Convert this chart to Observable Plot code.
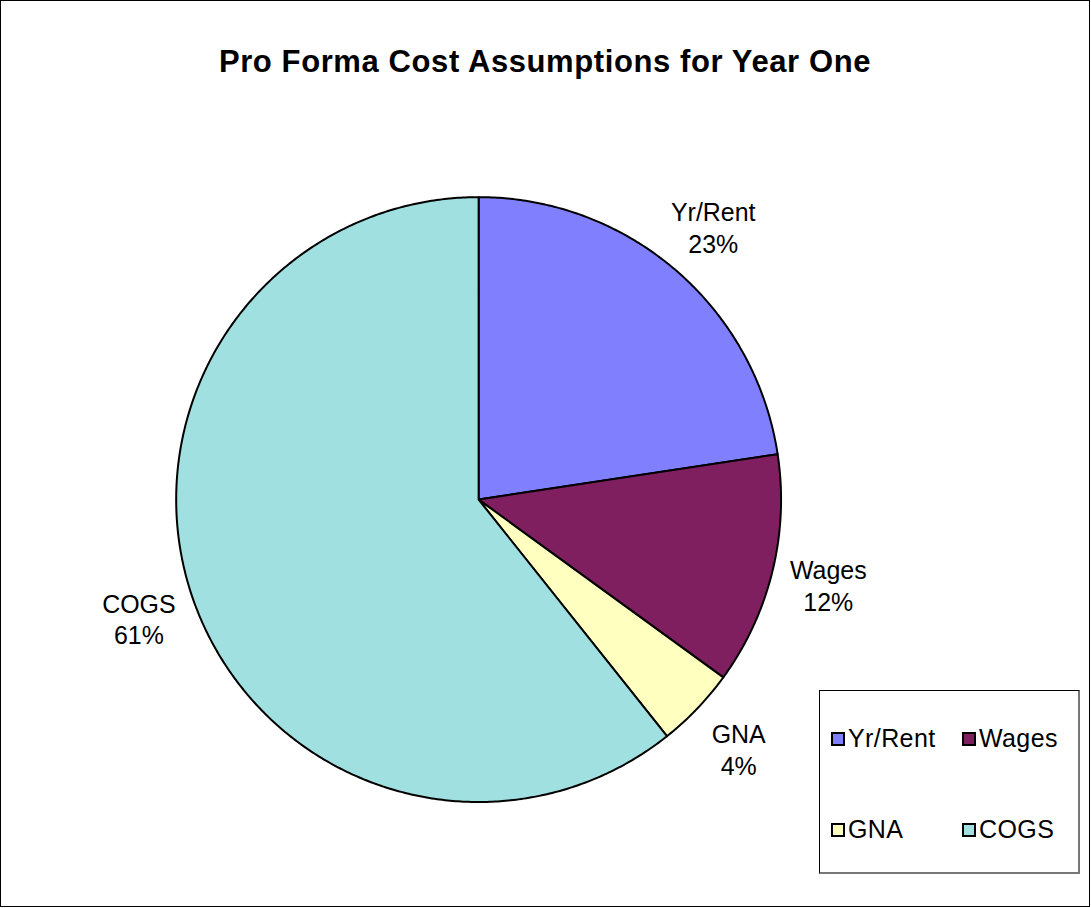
<!DOCTYPE html>
<html>
<head>
<meta charset="utf-8">
<script src="https://cdn.jsdelivr.net/npm/d3@7"></script>
<script src="https://cdn.jsdelivr.net/npm/@observablehq/plot@0.6"></script>
<style>
  html, body { margin: 0; padding: 0; background: #fff; }
  #frame { position: relative; width: 1090px; height: 907px; box-sizing: border-box; border: 1px solid #000; overflow: hidden; font-family: "Liberation Sans", Arial, sans-serif; }
  #title { position: absolute; left: 0; right: 0; top: 43px; text-align: center; font-weight: bold; font-size: 31px; letter-spacing: 0.6px; color: #000; }
  #chart { position: absolute; left: -1px; top: -1px; }
  #legend { position: absolute; left: 818px; top: 689px; width: 261px; height: 184px; box-sizing: border-box; border: 1px solid #000; border-right: 2px solid #777; border-bottom: 2px solid #777; background: #fff; font-size: 25px; letter-spacing: 0.4px; }
  .item { position: absolute; display: flex; align-items: center; }
  .sw { width: 10px; height: 10px; border: 2.5px solid #000; margin-right: 3px; }
</style>
</head>
<body>
<div id="frame">
  <div id="chart"></div>
  <div id="title">Pro Forma Cost Assumptions for Year One</div>
  <div id="legend"></div>
</div>
<script>
const names = ["Yr/Rent", "Wages", "GNA", "COGS"];
const values = [22.6, 12.4, 4.3, 60.7];
const colors = ["#8080FF", "#7F1F5F", "#FFFFC0", "#A0E0E0"];

const total = d3.sum(values);
// slice geometry derived from values (angles clockwise from 12 o'clock)
const slices = [];
let acc = 0;
names.forEach((name, i) => {
  const a0 = acc / total * 2 * Math.PI;
  acc += values[i];
  const a1 = acc / total * 2 * Math.PI;
  slices.push({name, value: values[i], a0, a1, pct: Math.round(values[i] / total * 100) + "%"});
});

const outline = [];
for (const s of slices) {
  outline.push({name: s.name, x: 0, y: 0});
  const n = Math.max(2, Math.ceil((s.a1 - s.a0) / (Math.PI / 360)));
  for (let k = 0; k <= n; k++) {
    const a = s.a0 + (s.a1 - s.a0) * k / n;
    outline.push({name: s.name, x: Math.sin(a), y: Math.cos(a)});
  }
  outline.push({name: s.name, x: 0, y: 0});
}

const labelR = 1.19;
const labelData = slices.map(s => {
  const m = (s.a0 + s.a1) / 2;
  return {text: s.name + "\n" + s.pct, x: labelR * Math.sin(m), y: labelR * Math.cos(m)};
});

const chart = Plot.plot({
  width: 1091,
  height: 908,
  margin: 0,
  style: {fontFamily: "Liberation Sans, Arial, sans-serif", background: "transparent"},
  x: {domain: [-1, 1], range: [176, 782], axis: null},
  y: {domain: [-1, 1], range: [803, 197], axis: null},
  color: {domain: names, range: colors},
  marks: [
    Plot.line(outline, {x: "x", y: "y", z: "name", fill: "name", stroke: "#000", strokeWidth: 2, strokeLinejoin: "round", curve: "linear"}),
    Plot.text(labelData, {x: "x", y: "y", text: "text", fontSize: 25, lineHeight: 1.28, fill: "#000", textAnchor: "middle"})
  ]
});
document.getElementById("chart").appendChild(chart);

const legend = document.getElementById("legend");
const pos = [[11, 33], [142, 33], [11, 124], [142, 124]];
names.forEach((n, i) => {
  const it = document.createElement("div");
  it.className = "item";
  it.style.left = pos[i][0] + "px";
  it.style.top = pos[i][1] + "px";
  const sw = document.createElement("div");
  sw.className = "sw";
  sw.style.background = colors[i];
  const t = document.createElement("span");
  t.textContent = n;
  it.appendChild(sw);
  it.appendChild(t);
  legend.appendChild(it);
});
</script>
</body>
</html>
